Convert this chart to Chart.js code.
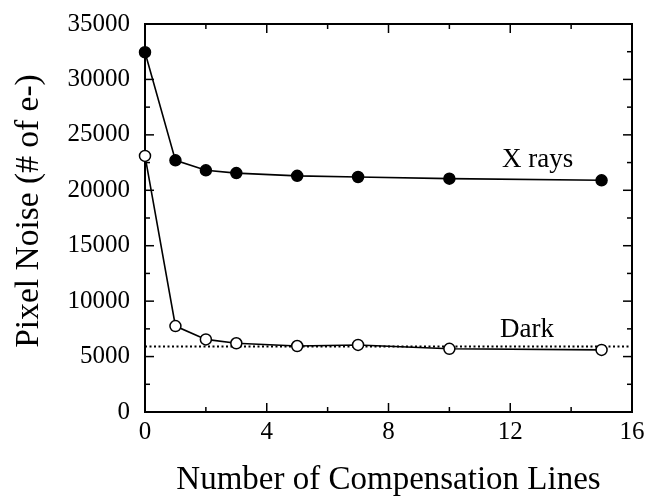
<!DOCTYPE html>
<html>
<head>
<meta charset="utf-8">
<script src="https://cdn.jsdelivr.net/npm/chart.js@4"></script>
<style>
  html, body { margin: 0; padding: 0; background: #fff; }
  #wrap { width: 652px; height: 497px; }
</style>
</head>
<body>
<div id="wrap"><canvas id="c" width="652" height="497"></canvas></div>
<script>
// Number of compensation lines used
const lines = [0, 1, 2, 3, 5, 7, 10, 15];
// Pixel noise (electrons) under X-ray illumination
const xrayNoise = [32450, 22700, 21800, 21550, 21300, 21200, 21050, 20900];
// Pixel noise (electrons) in the dark
const darkNoise = [23100, 7750, 6550, 6200, 5950, 6050, 5700, 5600];
// Reference dark noise level (dotted line)
const darkLevel = 5900;
const xRange = [0, 16];
const yRange = [0, 35000];
const xMajorStep = 4, xMinorStep = 2;
const yMajorStep = 5000, yMinorStep = 2500;
const seriesNames = ['X rays', 'Dark'];
const xTitle = 'Number of Compensation Lines';
const yTitle = 'Pixel Noise (# of e-)';

const SERIF = '"Liberation Serif", "Times New Roman", serif';

const toPoints = (xs, ys) => xs.map((v, i) => ({ x: v, y: ys[i] }));

// Frame, inward ticks on all four sides, series labels and y title
const decorations = {
  id: 'decorations',
  beforeDatasetsDraw(chart) {
    const { ctx, chartArea: a, scales: { x, y } } = chart;
    ctx.save();
    ctx.strokeStyle = '#000';
    ctx.lineWidth = 2;
    ctx.strokeRect(a.left, a.top, a.right - a.left, a.bottom - a.top);
    ctx.lineWidth = 1.5;
    const seg = (x1, y1, x2, y2) => { ctx.beginPath(); ctx.moveTo(x1, y1); ctx.lineTo(x2, y2); ctx.stroke(); };
    for (let v = xRange[0]; v <= xRange[1]; v += xMinorStep) {
      const px = x.getPixelForValue(v);
      const L = v % xMajorStep === 0 ? 9 : 5;
      seg(px, a.bottom, px, a.bottom - L);
      seg(px, a.top, px, a.top + L);
    }
    for (let v = yRange[0]; v <= yRange[1]; v += yMinorStep) {
      const py = y.getPixelForValue(v);
      const L = v % yMajorStep === 0 ? 9 : 5;
      seg(a.left, py, a.left + L, py);
      seg(a.right, py, a.right - L, py);
    }
    ctx.restore();
  },
  afterDraw(chart) {
    const { ctx, scales: { x, y } } = chart;
    ctx.save();
    ctx.fillStyle = '#000';
    ctx.font = '27px ' + SERIF;
    ctx.textAlign = 'center';
    ctx.textBaseline = 'middle';
    ctx.fillText(seriesNames[0], x.getPixelForValue(12.9), y.getPixelForValue(22750));
    ctx.fillText(seriesNames[1], x.getPixelForValue(12.55), y.getPixelForValue(7400));
    // y-axis title, rotated
    ctx.font = '33.5px ' + SERIF;
    ctx.translate(29, 211);
    ctx.rotate(-Math.PI / 2);
    ctx.fillText(yTitle, 0, 0);
    ctx.restore();
  }
};

new Chart(document.getElementById('c'), {
  type: 'scatter',
  data: {
    datasets: [
      {
        label: seriesNames[0],
        data: toPoints(lines, xrayNoise),
        showLine: true,
        borderColor: '#000',
        borderWidth: 1.6,
        pointRadius: 5.5,
        pointBackgroundColor: '#000',
        pointBorderColor: '#000',
        pointBorderWidth: 1.5,
        clip: false
      },
      {
        label: seriesNames[1],
        data: toPoints(lines, darkNoise),
        showLine: true,
        borderColor: '#000',
        borderWidth: 1.6,
        pointRadius: 5.5,
        pointBackgroundColor: '#fff',
        pointBorderColor: '#000',
        pointBorderWidth: 1.5,
        clip: false
      },
      {
        label: 'dark level',
        data: toPoints(xRange, [darkLevel, darkLevel]),
        showLine: true,
        borderColor: '#000',
        borderWidth: 2,
        borderDash: [2, 2.5],
        pointRadius: 0,
        order: 5
      }
    ]
  },
  options: {
    responsive: false,
    devicePixelRatio: 1,
    animation: false,
    events: [],
    layout: { padding: { top: 24, right: 20, left: 0, bottom: 0 } },
    plugins: { legend: { display: false }, tooltip: { enabled: false } },
    scales: {
      x: {
        type: 'linear',
        min: xRange[0], max: xRange[1],
        border: { display: false },
        grid: { display: false, drawTicks: false },
        ticks: {
          stepSize: xMajorStep,
          padding: 5,
          color: '#000',
          font: { family: SERIF, size: 25 },
          maxRotation: 0
        },
        title: {
          display: true,
          text: xTitle,
          color: '#000',
          font: { family: SERIF, size: 33, lineHeight: 1 },
          padding: { top: 0, bottom: 0 }
        },
        afterFit(scale) {
          scale.height = 85;
          scale.paddingLeft = 0;
          scale.paddingRight = 0;
        }
      },
      y: {
        type: 'linear',
        min: yRange[0], max: yRange[1],
        border: { display: false },
        grid: { display: false, drawTicks: false },
        ticks: {
          stepSize: yMajorStep,
          padding: 15,
          color: '#000',
          font: { family: SERIF, size: 25 },
          callback: (v) => String(v)
        },
        afterFit(scale) {
          scale.width = 145;
          scale.paddingTop = 0;
          scale.paddingBottom = 0;
        }
      }
    }
  },
  plugins: [decorations]
});
</script>
</body>
</html>
